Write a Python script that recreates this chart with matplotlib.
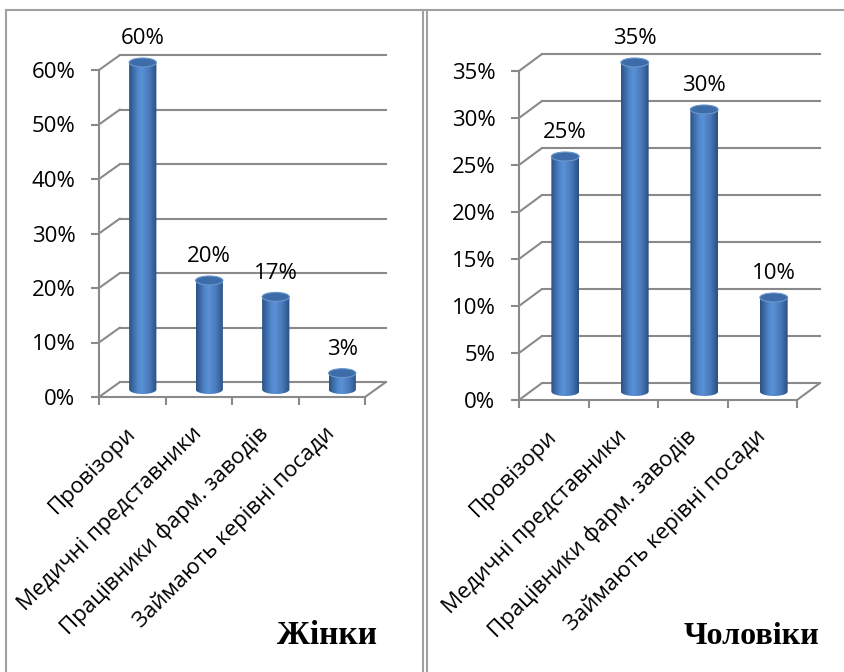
import matplotlib
matplotlib.use("Agg")
from matplotlib import pyplot as plt
from matplotlib.patches import Ellipse, PathPatch, ConnectionPatch
from matplotlib.path import Path
from matplotlib.colors import LinearSegmentedColormap
from matplotlib.transforms import ScaledTranslation
from matplotlib.lines import Line2D
from matplotlib.ticker import PercentFormatter
import numpy as np

categories = ["Провізори", "Медичні представники",
              "Працівники фарм. заводів", "Займають керівні посади"]
women = [0.60, 0.20, 0.17, 0.03]
men = [0.25, 0.35, 0.30, 0.10]
women_ticks = [0.0, 0.1, 0.2, 0.3, 0.4, 0.5, 0.6]
men_ticks = [0.0, 0.05, 0.10, 0.15, 0.20, 0.25, 0.30, 0.35]

GRID = "#8a8a8a"
FRAME = "#a0a0a0"
FONT = "Open Sans"
W, H = 844, 672

plt.rcParams["font.family"] = [FONT, "DejaVu Sans"]

fig = plt.figure(figsize=(W / 100, H / 100), dpi=100)

cyl = LinearSegmentedColormap.from_list(
    "cyl", [(0.0, "#2b5286"), (0.3, "#4f85c9"), (0.45, "#5b92d7"),
            (0.75, "#4677b8"), (1.0, "#2a4f80")])
grad = np.linspace(0, 1, 64).reshape(1, -1)


def draw_panel(ax, values, ticks, dx, dy, bar_w, ell_px=9):
    n = len(values)
    ymin, ymax = ticks[0], ticks[-1]
    dpi = fig.dpi
    back = ax.transData + ScaledTranslation(dx / dpi, dy / dpi, fig.dpi_scale_trans)
    mid = ax.transData + ScaledTranslation(dx / 2 / dpi, dy / 2 / dpi, fig.dpi_scale_trans)

    # back wall gridlines and side wall diagonals
    for t in ticks:
        ax.plot([-0.5, n - 0.5], [t, t], transform=back, color=GRID, lw=1.5,
                clip_on=False, zorder=1)
        con = ConnectionPatch((-0.5, t), (-0.5, t), coordsA=ax.transData,
                              coordsB=back, color=GRID, lw=1.5, zorder=1)
        ax.add_artist(con)
        con.set_clip_on(False)
    con = ConnectionPatch((n - 0.5, ymin), (n - 0.5, ymin), coordsA=ax.transData,
                          coordsB=back, color=GRID, lw=1.5, zorder=1)
    ax.add_artist(con)
    con.set_clip_on(False)

    ax_h_px = ax.get_position().height * H
    h = ell_px * (ymax - ymin) / ax_h_px

    # cylinders
    for i, v in enumerate(values):
        x0, x1 = i - bar_w / 2, i + bar_w / 2
        t = np.linspace(np.pi, 2 * np.pi, 40)
        arc = list(zip(i + bar_w / 2 * np.cos(t), ymin + h / 2 * np.sin(t)))
        verts = [(x0, v)] + arc + [(x1, v), (x0, v)]
        body = PathPatch(Path(verts, closed=True), transform=mid,
                         facecolor="none", edgecolor="none")
        im = ax.imshow(grad, cmap=cyl, extent=[x0, x1, ymin - h / 2, v],
                       transform=mid, aspect="auto", interpolation="bicubic",
                       zorder=3)
        im.set_clip_path(body)
        im.set_clip_box(fig.bbox)
        ax.add_patch(Ellipse((i, v), bar_w, h, transform=mid, facecolor="#3d6ca8",
                             edgecolor="#6b98cf", lw=0.8, zorder=4, clip_on=False))
        ax.annotate(f"{round(v * 100)}%", xy=(i, v), xycoords=mid,
                    xytext=(0, 17), textcoords="offset points", ha="center",
                    va="center", fontsize=16, annotation_clip=False, zorder=5)

    ax.set_xlim(-0.5, n - 0.5)
    ax.set_ylim(ymin, ymax)
    ax.set_aspect("auto")
    ax.patch.set_visible(False)
    for side in ("top", "right"):
        ax.spines[side].set_visible(False)
    for side in ("left", "bottom"):
        ax.spines[side].set_color(GRID)
        ax.spines[side].set_linewidth(1.5)

    ax.set_yticks(ticks)
    ax.yaxis.set_major_formatter(PercentFormatter(1.0, decimals=0))
    ax.tick_params(axis="y", length=6, width=1.5, color=GRID, labelsize=16, pad=11)

    ax.set_xticks(range(n))
    ax.set_xticklabels(categories, rotation=45, ha="right", va="center",
                       rotation_mode="anchor")
    ax.set_xticks(np.arange(-0.5, n, 1.0), minor=True)
    ax.tick_params(axis="x", which="major", length=0, labelsize=16, pad=24)
    ax.tick_params(axis="x", which="minor", length=6, width=1.5, color=GRID)


ax1 = fig.add_axes([99 / W, 1 - 397 / H, 266 / W, 327 / H])
draw_panel(ax1, women, women_ticks, dx=21, dy=15, bar_w=0.41)

ax2 = fig.add_axes([519 / W, 1 - 400 / H, 278 / W, 329 / H])
draw_panel(ax2, men, men_ticks, dx=23, dy=17, bar_w=0.40)

fig.text(327 / W, 1 - 636 / H, "Жінки", family="Liberation Serif",
         weight="bold", fontsize=24, ha="center", va="center")
fig.text(752 / W, 1 - 637 / H, "Чоловіки", family="Liberation Serif",
         weight="bold", fontsize=23, ha="center", va="center")

# page frame lines
for xs, ys in [([6, 6], [10, H]), ([6, W], [10, 10]),
               ([423, 423], [10, H]), ([427, 427], [10, H])]:
    fig.add_artist(Line2D([x / W for x in xs], [1 - y / H for y in ys],
                          transform=fig.transFigure, color=FRAME, lw=1.5))

fig.savefig("out.png", dpi=100)
